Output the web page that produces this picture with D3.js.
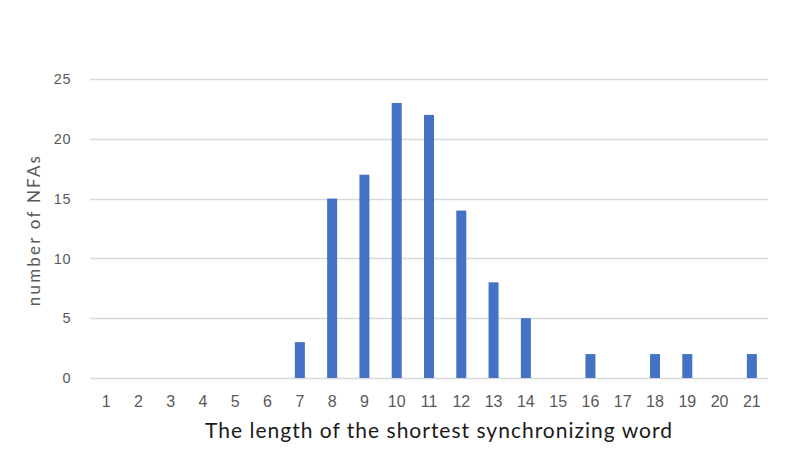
<!DOCTYPE html>
<html>
<head>
<meta charset="utf-8">
<script src="https://cdn.jsdelivr.net/npm/d3@7"></script>
<style>
  body { margin: 0; background: #fff; }
  svg { font-family: Lato, "Open Sans", sans-serif; }
</style>
</head>
<body>
<div id="chart"></div>
<script>
// Data
const lengths = d3.range(1, 22).map(String);
const counts = [0, 0, 0, 0, 0, 0, 3, 15, 17, 23, 22, 14, 8, 5, 0, 2, 0, 2, 2, 0, 2];
const yTicks = [0, 5, 10, 15, 20, 25];

const W = 789, H = 473;
const margin = { top: 79, right: 21, bottom: 95, left: 90 };
const width = W - margin.left - margin.right;
const height = H - margin.top - margin.bottom;

const svg = d3.select('#chart')
    .append('svg')
    .attr('width', W)
    .attr('height', H)
    .append('g')
    .attr('transform', `translate(${margin.left},${margin.top})`);

// Scales
const xScale = d3.scaleBand()
    .domain(lengths)
    .range([0, width])
    .paddingInner(0.69)
    .paddingOuter(0.345);

const yScale = d3.scaleLinear()
    .domain([0, 25])
    .range([height, 0]);

// Gridlines
svg.append('g')
    .selectAll('line')
    .data(yTicks)
    .enter()
    .append('line')
    .attr('x1', 0)
    .attr('x2', width)
    .attr('y1', d => Math.round(yScale(d)) + 0.5)
    .attr('y2', d => Math.round(yScale(d)) + 0.5)
    .attr('stroke', '#d9d9d9')
    .attr('stroke-width', 1.3);

// Y axis labels
const yAxis = svg.append('g')
    .call(d3.axisLeft(yScale).tickValues(yTicks).tickSize(0).tickPadding(19));
yAxis.select('.domain').remove();
yAxis.selectAll('text')
    .attr('fill', '#595959')
    .attr('font-size', '14.5px')
    .attr('letter-spacing', '0.5px');

// Bars
svg.selectAll('rect.bar')
    .data(counts)
    .enter()
    .append('rect')
    .attr('class', 'bar')
    .attr('x', (d, i) => xScale(lengths[i]))
    .attr('y', d => yScale(d))
    .attr('width', xScale.bandwidth())
    .attr('height', d => height - yScale(d))
    .attr('fill', '#4472c4');

// X axis labels
const xAxis = svg.append('g')
    .attr('transform', `translate(0,${height})`)
    .call(d3.axisBottom(xScale).tickSize(0).tickPadding(18));
xAxis.select('.domain').remove();
xAxis.selectAll('text')
    .attr('fill', '#595959')
    .attr('font-size', '16px');

// Axis titles
svg.append('text')
    .attr('x', width / 2 + 10)
    .attr('y', height + 60)
    .attr('text-anchor', 'middle')
    .attr('fill', '#1a1a1a')
    .attr('font-size', '21px')
    .attr('letter-spacing', '1px')
    .text('The length of the shortest synchronizing word');

svg.append('text')
    .attr('transform', 'rotate(-90)')
    .attr('x', -(230 - margin.top))
    .attr('y', -50)
    .attr('text-anchor', 'middle')
    .attr('fill', '#595959')
    .attr('font-size', '17px')
    .attr('letter-spacing', '2.2px')
    .text('number of NFAs');
</script>
</body>
</html>
